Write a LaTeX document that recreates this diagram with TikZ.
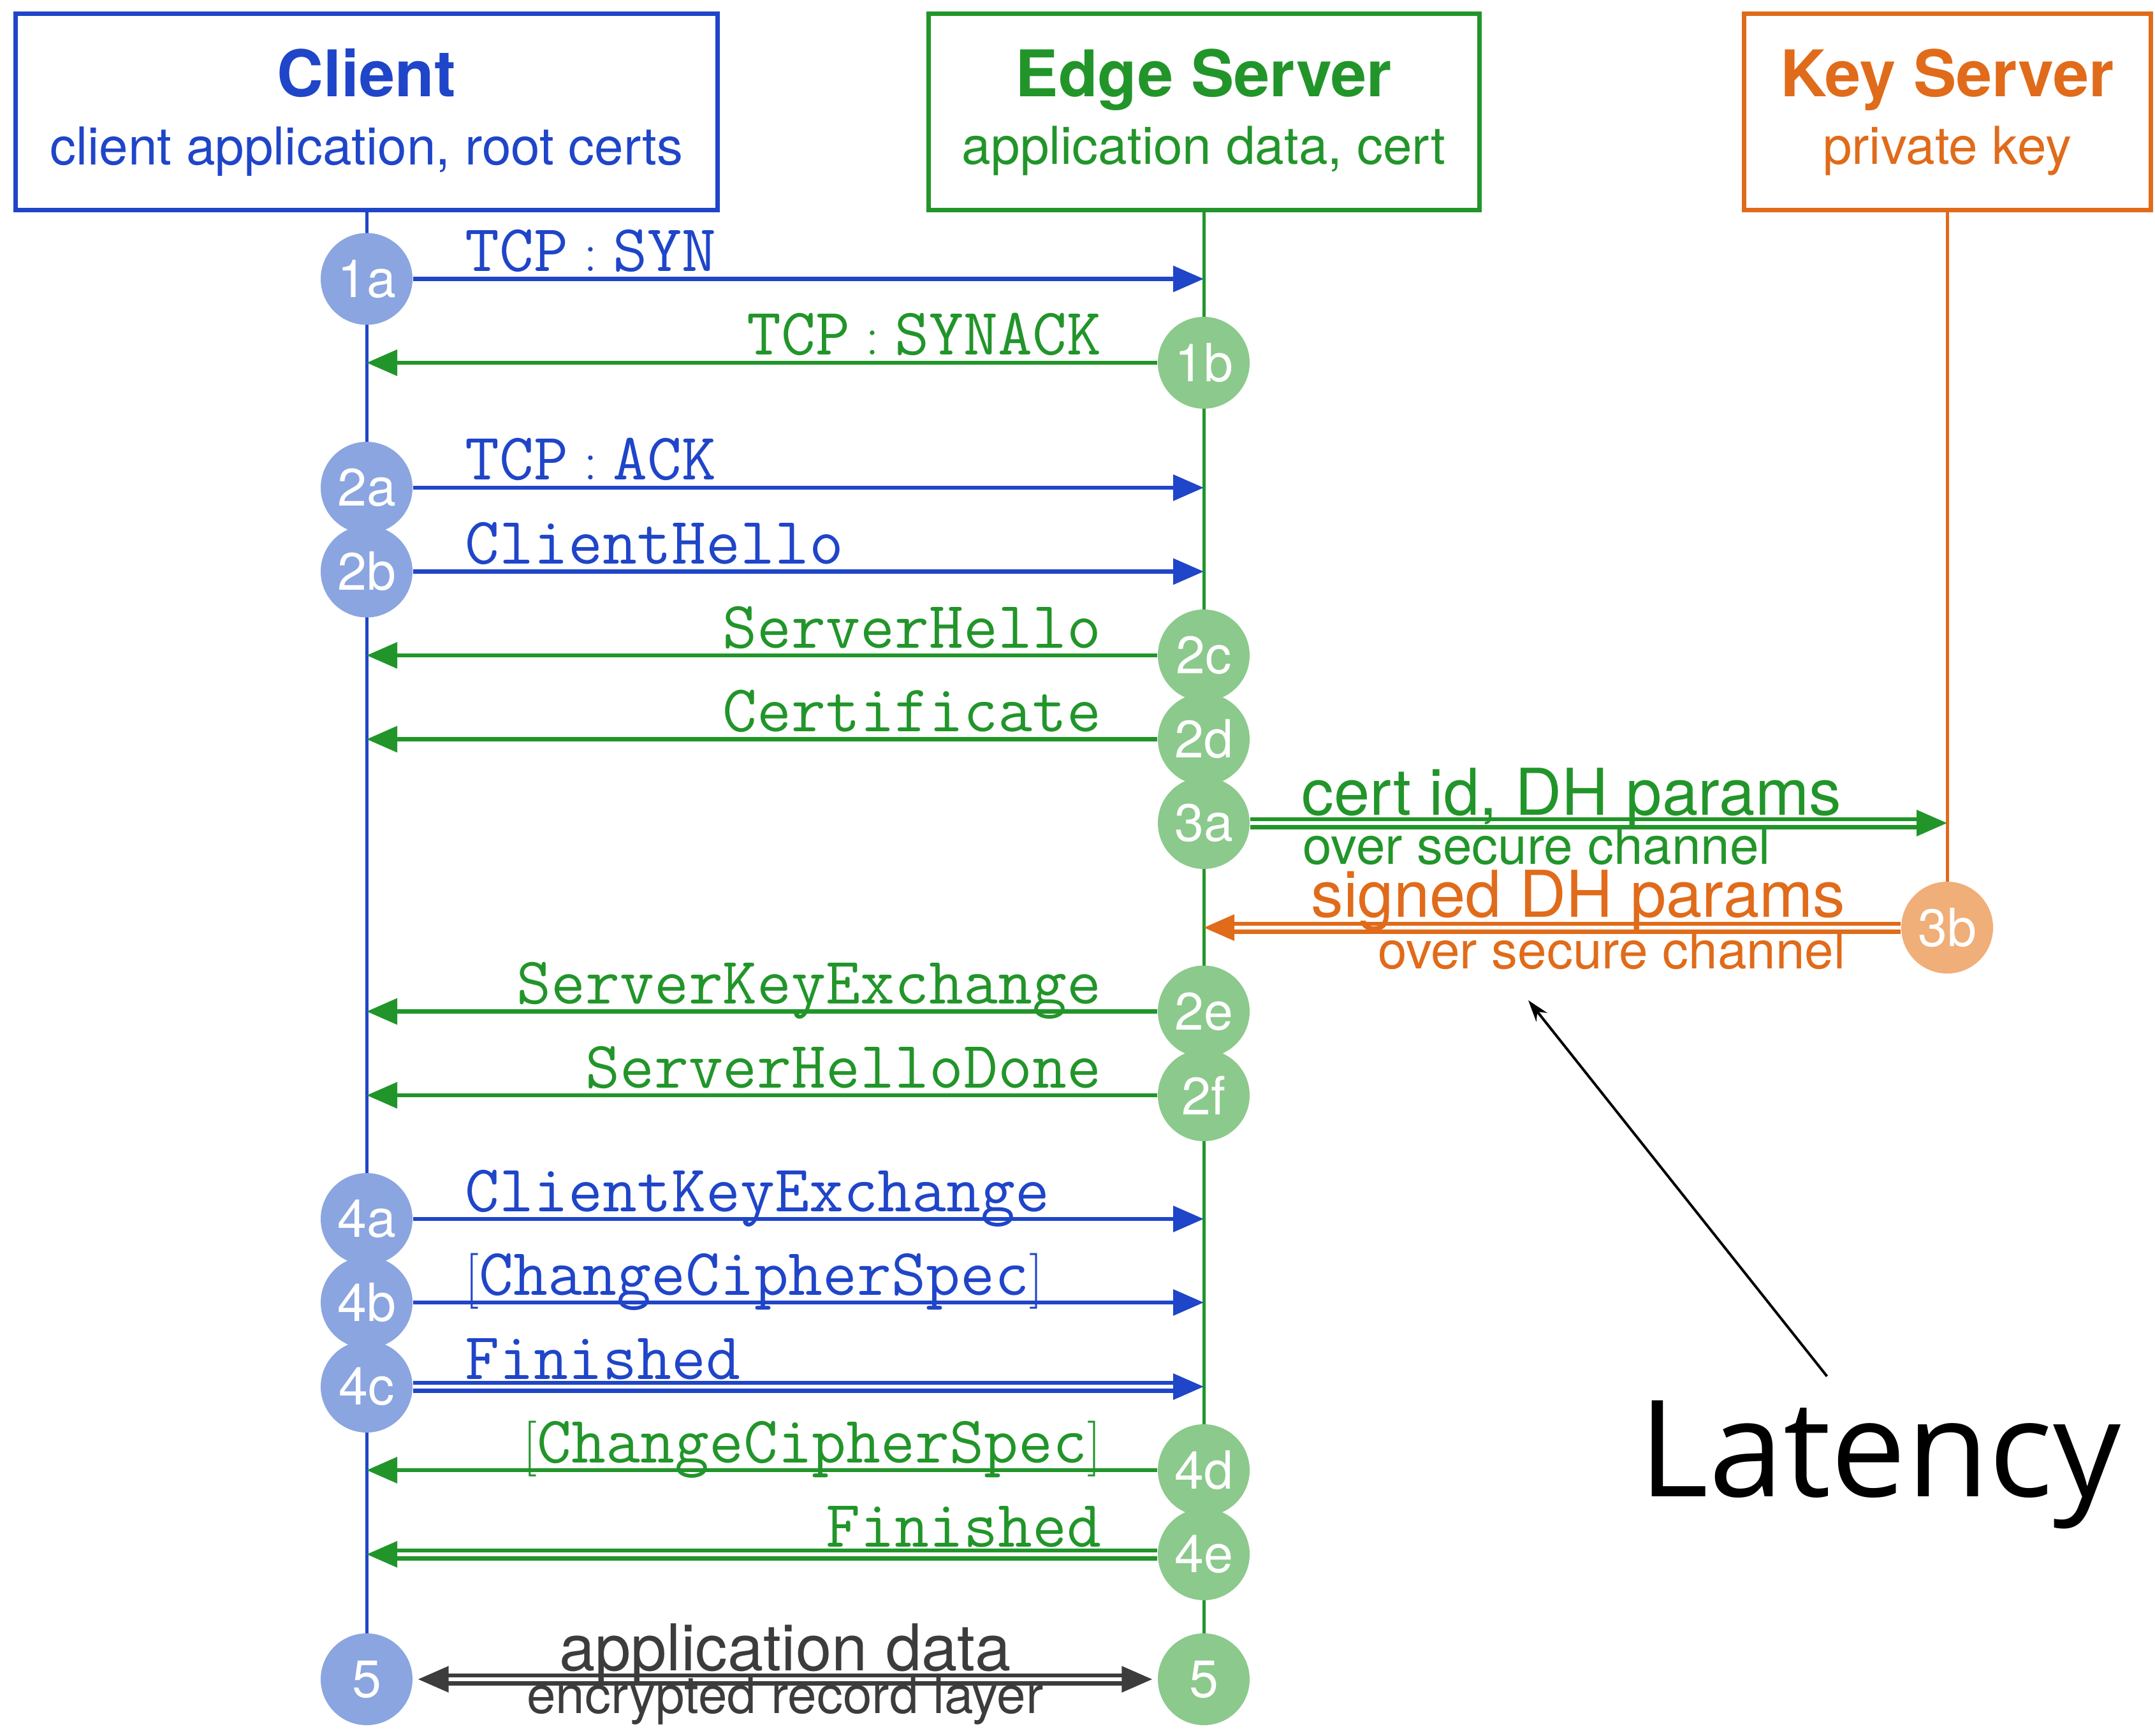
\documentclass[tikz,border=0pt]{standalone}
\usepackage{fontspec}
\setsansfont{TeX Gyre Heros}
\newfontfamily\latencyfont{Open Sans}
\usepackage{tikz}
\usetikzlibrary{arrows.meta,positioning,backgrounds}
\definecolor{clientblue}{HTML}{1F45C8}
\definecolor{clientfill}{HTML}{8AA5E0}
\definecolor{edgegreen}{HTML}{22952A}
\definecolor{edgefill}{HTML}{8CC98C}
\definecolor{keyorange}{HTML}{E06B1A}
\definecolor{keyfill}{HTML}{F0AE78}
\definecolor{datagray}{HTML}{3C3C3C}

\begin{document}
\begin{tikzpicture}[
  actor/.style={draw, line width=0.07cm, minimum height=3.08cm, align=center, inner sep=0pt, font=\sffamily\fontsize{23.3}{30.4}\selectfont},
  stepnum/.style={circle, minimum size=1.44cm, inner sep=0pt, text=white, font=\sffamily\fontsize{23.5}{24}\selectfont},
  cstep/.style={stepnum, fill=clientfill},
  estep/.style={stepnum, fill=edgefill},
  kstep/.style={stepnum, fill=keyfill},
  life/.style={line width=0.05cm},
  msg/.style={line width=0.065cm, -{Triangle[length=0.48cm,width=0.40cm]}},
  dmsg/.style={msg, line width=0.065cm, double, double distance=0.06cm},
  ttlbl/.style={inner sep=0pt, font=\fontsize{29.8}{32}\selectfont},
  bmsg/.style={ttlbl, text=clientblue, anchor=base west},
  gmsg/.style={ttlbl, text=edgegreen, anchor=base east},
  biglbl/.style={inner sep=0pt, font=\sffamily\fontsize{28.8}{30}\selectfont},
  smalllbl/.style={inner sep=0pt, font=\sffamily\fontsize{23.3}{26}\selectfont},
  pointer/.style={line width=0.04cm, -{Stealth[length=0.34cm,width=0.22cm]}}
]
  \useasboundingbox (0,0) rectangle (33.80,-27.23);

  % participants
  \node[actor, color=clientblue, minimum width=11.01cm] (client) at (5.75,-1.76)
    {{\fontsize{28.7}{30.4}\selectfont\bfseries Client}\\client application, root certs};
  \node[actor, color=edgegreen, minimum width=8.64cm] (edge) at (18.88,-1.76)
    {{\fontsize{28.7}{30.4}\selectfont\bfseries Edge Server}\\application data, cert};
  \node[actor, color=keyorange, minimum width=6.38cm] (key) at (30.54,-1.76)
    {{\fontsize{28.7}{30.4}\selectfont\bfseries Key Server}\\private key};

  % steps
  \node[cstep] (c1a) at (5.75,-4.375) {1a};
  \node[estep] (e1b) at (18.88,-5.69) {1b};
  \node[cstep] (c2a) at (5.75,-7.65) {2a};
  \node[cstep] (c2b) at (5.75,-8.965) {2b};
  \node[estep] (e2c) at (18.88,-10.28) {2c};
  \node[estep] (e2d) at (18.88,-11.595) {2d};
  \node[estep] (e3a) at (18.88,-12.91) {3a};
  \node[kstep] (k3b) at (30.54,-14.55) {3b};
  \node[estep] (e2e) at (18.88,-15.865) {2e};
  \node[estep] (e2f) at (18.88,-17.18) {2f};
  \node[cstep] (c4a) at (5.75,-19.12) {4a};
  \node[cstep] (c4b) at (5.75,-20.43) {4b};
  \node[cstep] (c4c) at (5.75,-21.75) {4c};
  \node[estep] (e4d) at (18.88,-23.06) {4d};
  \node[estep] (e4e) at (18.88,-24.38) {4e};
  \node[cstep] (c5) at (5.75,-26.34) {5};
  \node[estep] (e5) at (18.88,-26.34) {5};

  % lifelines, behind the steps
  \begin{pgfonlayer}{background}
    \draw[life, clientblue] (client.south) -- (c5.center);
    \draw[life, edgegreen] (edge.south) -- (e5.center);
    \draw[life, keyorange] (key.south) -- (k3b.center);
  \end{pgfonlayer}

  % messages
  \draw[msg, clientblue] (c1a) -- (c1a -| edge);
  \draw[msg, edgegreen] (e1b) -- (e1b -| client);
  \draw[msg, clientblue] (c2a) -- (c2a -| edge);
  \draw[msg, clientblue] (c2b) -- (c2b -| edge);
  \draw[msg, edgegreen] (e2c) -- (e2c -| client);
  \draw[msg, edgegreen] (e2d) -- (e2d -| client);
  \draw[dmsg, edgegreen] (e3a) -- (e3a -| key);
  \draw[dmsg, keyorange] (k3b) -- (k3b -| edge);
  \draw[msg, edgegreen] (e2e) -- (e2e -| client);
  \draw[msg, edgegreen] (e2f) -- (e2f -| client);
  \draw[msg, clientblue] (c4a) -- (c4a -| edge);
  \draw[msg, clientblue] (c4b) -- (c4b -| edge);
  \draw[dmsg, clientblue] (c4c) -- (c4c -| edge);
  \draw[msg, edgegreen] (e4d) -- (e4d -| client);
  \draw[dmsg, edgegreen] (e4e) -- (e4e -| client);
  \draw[dmsg, datagray, {Triangle[length=0.48cm,width=0.40cm]}-{Triangle[length=0.48cm,width=0.40cm]},
        shorten <=0.08cm, shorten >=0.08cm] (c5) -- (e5)
    node[biglbl, text=datagray, midway, anchor=base, yshift=0.14cm] (appdata) {application data}
    node[smalllbl, text=datagray, midway, anchor=base, yshift=-0.53cm] (recordlayer) {encrypted record layer};

  % message labels
  \node[bmsg] (lsyn) at ([shift={(1.54,0.12)}]c1a) {$\mathtt{TCP:SYN}$};
  \node[gmsg] (lsynack) at ([shift={(-1.60,0.12)}]e1b) {$\mathtt{TCP:SYNACK}$};
  \node[bmsg] (lack) at ([shift={(1.54,0.12)}]c2a) {$\mathtt{TCP:ACK}$};
  \node[bmsg] (lchello) at ([shift={(1.54,0.12)}]c2b) {\texttt{ClientHello}};
  \node[gmsg] (lshello) at ([shift={(-1.60,0.12)}]e2c) {\texttt{ServerHello}};
  \node[gmsg] (lcert) at ([shift={(-1.60,0.12)}]e2d) {\texttt{Certificate}};
  \node[gmsg] (lskex) at ([shift={(-1.60,0.12)}]e2e) {\texttt{ServerKeyExchange}};
  \node[gmsg] (lshdone) at ([shift={(-1.60,0.12)}]e2f) {\texttt{ServerHelloDone}};
  \node[bmsg] (lckex) at ([shift={(1.54,0.12)}]c4a) {\texttt{ClientKeyExchange}};
  \node[bmsg] (lccs) at ([shift={(1.54,0.12)}]c4b) {$[\mathtt{ChangeCipherSpec}]$};
  \node[bmsg] (lcfin) at ([shift={(1.54,0.12)}]c4c) {\texttt{Finished}};
  \node[gmsg] (lsccs) at ([shift={(-1.60,0.12)}]e4d) {$[\mathtt{ChangeCipherSpec}]$};
  \node[gmsg] (lsfin) at ([shift={(-1.60,0.12)}]e4e) {\texttt{Finished}};

  \node[biglbl, text=edgegreen, anchor=base west] (ldhreq) at ([shift={(1.53,0.13)}]e3a) {cert id, DH params};
  \node[smalllbl, text=edgegreen, anchor=base west] (lreqch) at ([shift={(1.55,-0.64)}]e3a) {over secure channel};
  \node[biglbl, text=keyorange, anchor=base east] (ldhsig) at ([shift={(-1.59,0.17)}]k3b) {signed DH params};
  \node[smalllbl, text=keyorange, anchor=base east] (lsigch) at ([shift={(-1.59,-0.64)}]k3b) {over secure channel};

  % latency note
  \node[inner sep=0pt, anchor=base west, font=\latencyfont\fontsize{60}{60}\selectfont] (lat) at (25.70,-23.47) {Latency};
  \coordinate (lattip) at (23.97,-15.69);
  \draw[pointer] ([xshift=-0.83cm,yshift=0.37cm]lat.north) -- (lattip);
\end{tikzpicture}
\end{document}
